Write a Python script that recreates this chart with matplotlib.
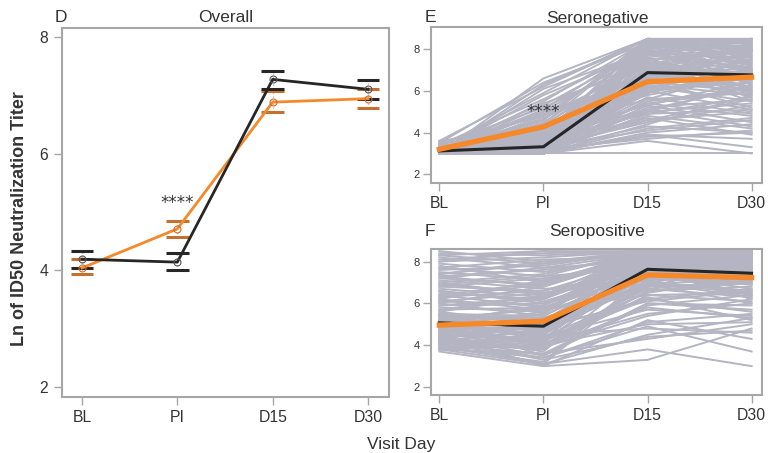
import matplotlib
matplotlib.use("Agg")
import matplotlib.pyplot as plt
import numpy as np

plt.rcParams['font.family'] = ['Liberation Sans', 'DejaVu Sans']

visits = ["BL", "PI", "D15", "D30"]

# Panel D (Overall): means and CI bounds
overall_black = [4.19, 4.14, 7.27, 7.10]
overall_black_hi = [4.33, 4.30, 7.42, 7.26]
overall_black_lo = [4.04, 4.00, 7.10, 6.94]
overall_orange = [4.04, 4.71, 6.88, 6.94]
overall_orange_hi = [4.20, 4.85, 7.07, 7.11]
overall_orange_lo = [3.93, 4.57, 6.71, 6.78]

# Panel E (Seronegative): mean lines
neg_black = [3.12, 3.32, 6.88, 6.77]
neg_orange = [3.20, 4.28, 6.45, 6.66]
# Panel F (Seropositive): mean lines
pos_black = [5.07, 4.91, 7.63, 7.44]
pos_orange = [4.96, 5.15, 7.36, 7.23]

# individual subject trajectories (BL, PI, D15, D30)
neg_subjects = [
    (3.0,3.0,8.5,8.5),(3.0,3.0,3.0,3.0),(3.1,3.2,7.8,8.2),(3.0,3.4,6.9,7.4),
    (3.2,3.9,8.5,8.4),(3.3,4.6,8.5,8.5),(3.0,6.6,8.5,8.0),(3.5,6.4,8.3,8.5),
    (3.6,6.2,8.5,7.6),(3.1,5.8,7.9,8.1),(3.0,5.5,8.4,7.2),(3.4,5.2,7.5,8.0),
    (3.2,5.0,6.6,7.0),(3.0,4.8,7.2,6.5),(3.1,4.4,6.0,6.8),(3.3,4.2,5.6,5.9),
    (3.0,4.0,7.0,7.7),(3.2,3.8,5.1,6.2),(3.0,3.6,4.6,5.0),(3.1,3.3,4.1,4.6),
    (3.0,3.1,3.8,4.0),(3.0,3.0,3.6,3.0),(3.2,3.0,3.9,3.7),(3.0,3.2,4.3,4.0),
    (3.1,3.0,4.8,4.2),(3.0,3.5,5.4,4.8),(3.3,3.1,6.2,5.5),(3.0,3.0,6.8,6.0),
    (3.0,3.2,7.4,6.6),(3.2,3.4,8.0,7.0),(3.1,3.0,8.5,7.8),(3.0,3.6,8.2,8.5),
    (3.4,3.2,7.7,7.3),(3.0,3.0,7.1,8.2),(3.1,3.8,6.4,7.2),(3.0,4.1,5.8,6.7),
    (3.2,3.0,5.2,5.6),(3.0,3.3,4.5,5.3),(3.5,3.9,6.1,6.4),(3.0,3.0,4.0,4.4),
    (3.0,4.5,7.6,7.0),(3.1,5.1,8.3,8.0),(3.3,5.9,8.5,8.3),(3.0,6.1,7.9,7.5),
    (3.2,4.9,6.7,7.9),(3.0,3.7,7.3,6.2),(3.1,3.1,5.9,7.1),(3.0,3.4,6.5,5.2),
    (3.3,3.0,7.0,6.9),(3.0,3.2,3.7,4.1),(3.2,3.5,4.7,3.9),(3.0,3.0,5.5,6.1),
    (3.6,4.3,7.8,7.6),(3.0,3.8,8.4,8.1),(3.1,3.0,6.3,5.8),(3.0,4.7,6.9,7.7),
    (3.2,5.4,7.2,6.8),(3.0,3.3,7.9,8.4),(3.4,3.6,6.0,6.6),(3.0,3.0,4.9,5.7),
    (3.1,4.0,5.3,4.5),(3.0,3.1,8.1,7.3),(3.3,3.2,6.6,7.8),(3.0,3.0,7.5,6.4),
    (3.2,4.4,8.5,8.1),(3.0,3.5,5.0,5.4),(3.1,3.0,4.2,4.7),(3.0,6.3,8.5,8.4),
    (3.0,3.9,7.7,8.5),(3.2,3.1,6.1,7.5),
    (3.0,3.0,5.6,7.0),(3.1,3.2,6.3,7.9),(3.0,3.4,7.6,5.9),(3.2,3.0,8.3,6.9),
    (3.0,3.6,6.9,8.3),(3.3,4.2,7.4,6.1),(3.0,3.0,7.8,7.1),(3.1,3.3,5.0,6.3),
    (3.0,3.1,6.0,5.1),(3.2,3.7,8.0,6.5),(3.0,4.6,8.5,7.4),(3.4,5.6,8.1,8.2),
    (3.0,3.0,6.7,7.3),(3.1,3.5,7.3,8.0),(3.0,3.2,5.7,4.9),(3.2,3.0,4.4,5.8),
    (3.0,4.2,6.2,6.9),(3.3,3.9,7.0,5.7),(3.0,3.0,8.2,7.7),(3.1,3.4,6.5,8.2),
    (3.0,5.0,7.9,6.3),(3.2,3.1,5.3,6.5),(3.0,3.3,7.2,5.5),(3.1,3.0,6.6,6.2),
    (3.0,3.8,8.5,7.9),(3.5,4.8,8.2,8.3),(3.0,3.0,5.1,4.3),(3.2,3.2,4.6,5.6),
    (3.0,3.6,7.1,6.7),(3.1,3.0,7.7,8.0),(3.0,5.3,8.0,8.5),(3.3,3.4,6.4,6.0),
    (3.0,3.1,5.9,6.9),(3.2,4.1,7.5,7.9),(3.0,3.0,3.9,3.3),(3.1,3.7,4.9,5.1),
    (3.0,3.2,8.4,7.6),(3.4,3.0,6.8,7.1),(3.0,4.4,7.3,7.5),(3.2,3.5,5.4,6.0),
]
pos_subjects = [
    (3.7,3.0,3.3,4.8),(4.0,3.1,3.8,3.0),(4.2,3.4,4.9,3.7),(3.8,3.6,4.3,5.0),
    (4.5,3.0,5.2,4.3),(4.1,3.9,5.8,5.3),(4.8,4.2,6.2,5.6),(5.0,4.5,4.8,4.6),
    (4.3,4.0,6.8,7.0),(3.9,3.2,7.4,6.7),(4.6,4.8,7.9,7.6),(5.2,5.0,8.2,8.0),
    (5.5,4.6,7.0,6.3),(4.0,4.4,6.5,7.3),(4.4,3.7,7.7,7.9),(5.8,5.6,8.5,8.5),
    (6.1,5.9,8.3,8.2),(6.5,6.2,8.0,7.7),(7.0,7.4,8.5,8.4),(7.6,7.8,8.5,8.5),
    (8.0,8.2,8.5,8.5),(8.5,8.0,8.4,8.3),(8.3,8.5,8.5,8.1),(7.8,7.0,8.1,7.8),
    (7.3,6.8,8.4,8.0),(6.8,7.2,7.9,7.5),(6.3,6.6,7.6,7.2),(5.9,6.0,7.2,6.9),
    (5.4,5.3,6.9,6.6),(4.9,5.6,7.3,7.4),(4.7,4.1,5.5,6.0),(5.1,3.5,6.0,5.9),
    (4.2,4.7,7.1,6.4),(3.9,4.3,6.3,5.2),(4.4,5.1,8.0,7.8),(5.6,6.4,8.5,8.2),
    (6.0,5.4,7.8,7.3),(6.7,6.3,8.2,7.9),(7.2,6.9,8.5,8.3),(7.9,7.5,8.3,8.0),
    (8.2,7.7,8.0,7.6),(6.4,7.0,8.5,8.4),(5.3,4.9,7.5,7.1),(4.6,5.5,8.3,8.4),
    (4.1,3.8,6.6,6.8),(3.8,4.0,5.0,5.1),(4.3,3.3,4.4,4.7),(4.9,4.4,5.7,5.4),
    (5.7,5.8,7.7,6.2),(6.2,5.7,6.4,6.5),(6.9,6.5,7.3,7.0),(7.4,7.9,8.4,8.5),
    (8.4,8.3,8.5,8.2),(7.7,8.1,8.2,7.9),(5.0,4.7,7.0,7.7),(4.5,4.2,7.6,7.3),
    (4.8,5.2,6.7,7.1),(5.2,4.3,8.1,7.4),(4.0,3.6,6.0,5.7),(4.7,4.9,7.4,8.0),
    (5.4,5.1,8.4,8.5),(6.6,6.1,7.5,6.4),(7.1,6.7,6.9,7.2),(3.9,3.9,5.4,6.2),
    (4.4,4.6,8.5,8.3),(5.1,5.9,7.9,7.5),(6.0,6.8,8.3,8.4),(4.2,3.1,7.2,6.9),
    (5.5,5.4,7.8,8.1),(8.1,8.4,8.5,8.5),
    (4.5,4.3,7.9,8.1),(5.3,5.7,8.3,8.0),(6.4,5.8,7.4,7.9),(7.5,7.1,8.0,7.4),
    (4.1,4.5,7.3,7.6),(4.8,4.0,6.9,6.0),(5.6,5.0,7.6,7.7),(6.9,7.3,8.5,8.0),
    (8.3,7.9,8.5,8.4),(7.0,6.4,7.8,8.2),(5.9,6.3,8.1,7.4),(4.3,4.9,6.1,6.6),
    (3.9,3.4,5.1,5.5),(4.6,4.1,7.8,7.0),(5.0,5.5,8.5,8.3),(6.3,6.9,8.4,7.8),
    (7.3,7.6,8.2,8.4),(8.0,8.5,8.3,8.0),(4.2,3.9,6.4,6.1),(5.4,4.8,6.2,6.7),
    (6.1,6.5,7.1,7.6),(4.0,4.6,7.7,7.2),(4.7,5.3,6.8,7.9),(5.2,5.8,7.4,6.5),
    (6.6,6.0,8.0,8.3),(7.7,7.3,7.7,7.3),(4.4,3.5,5.9,6.4),(3.8,3.1,4.5,5.3),
    (4.9,4.5,8.2,7.7),(5.7,6.2,8.5,8.1),(6.8,6.6,8.1,8.5),(7.4,8.0,8.5,8.2),
    (4.1,4.8,7.5,8.2),(4.6,3.8,7.0,6.6),(5.5,5.2,7.9,7.5),(6.2,7.1,8.3,7.7),
    (3.8,4.2,6.7,6.3),(4.3,5.0,7.2,7.8),(5.1,4.0,6.6,7.0),(7.2,7.7,8.4,8.1),
]

BLACK = "#262626"
ORANGE = "#f5892a"
ORANGE_CAP = "#c4702f"
GRAY = "#b4b4c2"
SPINE = "#a6a6a6"
TXT = "#333333"

W, H = 768, 453
fig = plt.figure(figsize=(W / 100, H / 100), dpi=100)

def rect(l, r, t, b):
    return [l / W, 1 - b / H, (r - l) / W, (b - t) / H]

def fp(x, y):
    return x / W, 1 - y / H

def style(ax, ylab_size):
    for s in ax.spines.values():
        s.set_color(SPINE)
        s.set_linewidth(1.5)
    ax.tick_params(direction='out', length=6, width=1, color=SPINE,
                   labelcolor=TXT)
    ax.tick_params(axis='x', labelsize=11.3, pad=3)
    ax.tick_params(axis='y', labelsize=ylab_size)

x = np.arange(len(visits))

# ---------- Panel D ----------
axD = fig.add_axes(rect(62, 389, 28, 397))
style(axD, 11.3)
axD.tick_params(axis='y', pad=4)
hw = 0.12
for xi, hi, lo in zip(x, overall_black_hi, overall_black_lo):
    axD.plot([xi, xi], [lo, hi], color="#bbbbbb", lw=1, ls=':', zorder=1)
for xi, hi, lo in zip(x, overall_orange_hi, overall_orange_lo):
    axD.plot([xi, xi], [lo, hi], color="#f5b27a", lw=1, ls=':', zorder=1)
axD.hlines(overall_orange_hi, x - hw, x + hw, color=ORANGE_CAP, lw=2.2, zorder=2)
axD.hlines(overall_orange_lo, x - hw, x + hw, color=ORANGE_CAP, lw=2.2, zorder=2)
axD.hlines(overall_black_hi, x - hw, x + hw, color=BLACK, lw=2.2, zorder=2)
axD.hlines(overall_black_lo, x - hw, x + hw, color=BLACK, lw=2.2, zorder=2)
axD.plot(x, overall_orange, color=ORANGE, lw=2, zorder=3)
axD.plot(x, overall_black, color=BLACK, lw=2, zorder=4)
axD.plot(x, overall_orange, ls='none', marker='o', ms=5, mfc='none',
         mec="#c4702f", mew=0.8, zorder=5)
axD.plot(x, overall_black, ls='none', marker='o', ms=5, mfc='none',
         mec="#555555", mew=0.8, zorder=5)
axD.set_xlim(-0.21, 3.22)
axD.set_ylim(1.83, 8.15)
axD.set_yticks([2, 4, 6, 8])
axD.set_xticks(x)
axD.set_xticklabels(visits)
axD.text(1, 5.16, "****", ha='center', va='center', fontsize=12,
         family='DejaVu Sans', color=TXT)

# ---------- Panels E and F ----------
def spaghetti(ax, subjects, black, orange, ylim):
    for s in subjects:
        ax.plot(x, s, color=GRAY, lw=1.4, zorder=1)
    ax.plot(x, black, color=BLACK, lw=2.2, zorder=3)
    ax.plot(x, orange, color=ORANGE, lw=3.8, zorder=4)
    ax.set_xlim(-0.08, 3.10)
    ax.set_ylim(*ylim)
    ax.set_yticks([2, 4, 6, 8])
    ax.set_xticks(x)
    ax.set_xticklabels(visits)
    style(ax, 8)
    ax.tick_params(axis='y', pad=2)

axE = fig.add_axes(rect(431, 762, 27, 183))
spaghetti(axE, neg_subjects, neg_black, neg_orange, (1.58, 9.07))
axE.text(1, 4.99, "****", ha='center', va='center', fontsize=12,
         family='DejaVu Sans', color=TXT, zorder=6)

axF = fig.add_axes(rect(431, 762, 249, 395))
spaghetti(axF, pos_subjects, pos_black, pos_orange, (1.62, 8.6))

# ---------- texts ----------
fig.text(*fp(55, 17), "D", ha='left', va='center', fontsize=12.5, color=TXT)
fig.text(*fp(225.5, 17), "Overall", ha='center', va='center', fontsize=12.5, color=TXT)
fig.text(*fp(425, 18), "E", ha='left', va='center', fontsize=12.5, color=TXT)
fig.text(*fp(597, 18), "Seronegative", ha='center', va='center', fontsize=12.5, color=TXT)
fig.text(*fp(425, 231), "F", ha='left', va='center', fontsize=12.5, color=TXT)
fig.text(*fp(597, 231), "Seropositive", ha='center', va='center', fontsize=12.5, color=TXT)
fig.text(*fp(20, 219), "Ln of ID50 Neutralization Titer", ha='center', va='center',
         rotation=90, fontsize=13, fontweight='bold', color=TXT)
fig.text(*fp(401, 444), "Visit Day", ha='center', va='center', fontsize=12.5, color=TXT)

fig.savefig("out.png", dpi=100)
